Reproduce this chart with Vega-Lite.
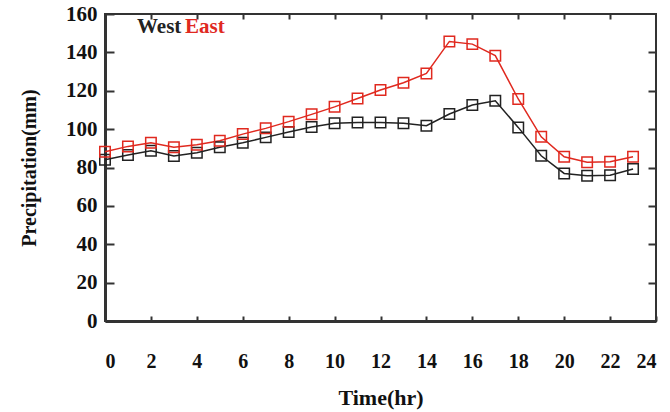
{
  "$schema": "https://vega.github.io/schema/vega-lite/v6.json",
  "width": 551,
  "height": 307,
  "autosize": {"type": "none"},
  "padding": {"left": 105, "top": 14, "right": 14, "bottom": 91},
  "background": "white",
  "config": {
    "font": "Liberation Serif",
    "view": {"stroke": "#333", "strokeWidth": 2},
    "axis": {"grid": false, "labelFont": "Liberation Serif", "titleFont": "Liberation Serif", "labelFontWeight": "bold", "titleFontWeight": "bold", "labelColor": "#111", "titleColor": "#111", "tickColor": "#333", "domainColor": "#333"}
  },
  "data": {
    "values": [
      {"hour": 0, "region": "West", "value": 84},
      {"hour": 1, "region": "West", "value": 86.5},
      {"hour": 2, "region": "West", "value": 88.7},
      {"hour": 3, "region": "West", "value": 86},
      {"hour": 4, "region": "West", "value": 87.7},
      {"hour": 5, "region": "West", "value": 90.5},
      {"hour": 6, "region": "West", "value": 92.9},
      {"hour": 7, "region": "West", "value": 95.7},
      {"hour": 8, "region": "West", "value": 98.5},
      {"hour": 9, "region": "West", "value": 101.1},
      {"hour": 10, "region": "West", "value": 103},
      {"hour": 11, "region": "West", "value": 103.4},
      {"hour": 12, "region": "West", "value": 103.4},
      {"hour": 13, "region": "West", "value": 103},
      {"hour": 14, "region": "West", "value": 101.8},
      {"hour": 15, "region": "West", "value": 107.9},
      {"hour": 16, "region": "West", "value": 112.6},
      {"hour": 17, "region": "West", "value": 114.8},
      {"hour": 18, "region": "West", "value": 100.9},
      {"hour": 19, "region": "West", "value": 86.1},
      {"hour": 20, "region": "West", "value": 76.9},
      {"hour": 21, "region": "West", "value": 75.7},
      {"hour": 22, "region": "West", "value": 76},
      {"hour": 23, "region": "West", "value": 79.2},
      {"hour": 0, "region": "East", "value": 88.2},
      {"hour": 1, "region": "East", "value": 91},
      {"hour": 2, "region": "East", "value": 92.9},
      {"hour": 3, "region": "East", "value": 90.5},
      {"hour": 4, "region": "East", "value": 91.9},
      {"hour": 5, "region": "East", "value": 93.9},
      {"hour": 6, "region": "East", "value": 97.4},
      {"hour": 7, "region": "East", "value": 100.4},
      {"hour": 8, "region": "East", "value": 103.9},
      {"hour": 9, "region": "East", "value": 107.7},
      {"hour": 10, "region": "East", "value": 111.6},
      {"hour": 11, "region": "East", "value": 116},
      {"hour": 12, "region": "East", "value": 120.4},
      {"hour": 13, "region": "East", "value": 124.2},
      {"hour": 14, "region": "East", "value": 129},
      {"hour": 15, "region": "East", "value": 145.7},
      {"hour": 16, "region": "East", "value": 144.3},
      {"hour": 17, "region": "East", "value": 138.3},
      {"hour": 18, "region": "East", "value": 115.7},
      {"hour": 19, "region": "East", "value": 96},
      {"hour": 20, "region": "East", "value": 85.6},
      {"hour": 21, "region": "East", "value": 82.7},
      {"hour": 22, "region": "East", "value": 83},
      {"hour": 23, "region": "East", "value": 85.6}
    ]
  },
  "layer": [
    {
      "mark": {"type": "line", "strokeWidth": 1.5, "point": {"shape": "square", "filled": false, "size": 110, "strokeWidth": 1.5}},
      "encoding": {
        "x": {"field": "hour", "type": "quantitative", "scale": {"domain": [0, 24], "nice": false},
              "axis": {"orient": "bottom", "values": [0,2,4,6,8,10,12,14,16,18,20,22,24], "tickSize": -5, "tickWidth": 2, "domainWidth": 3, "labelFontSize": 20, "labelPadding": 35, "title": "Time(hr)", "titleFontSize": 22, "titlePadding": 16}},
        "y": {"field": "value", "type": "quantitative", "scale": {"domain": [0, 160], "nice": false},
              "axis": {"orient": "left", "values": [0,20,40,60,80,100,120,140,160], "tickSize": -9, "tickWidth": 2, "domainWidth": 3, "labelFontSize": 21, "labelPadding": 17, "title": "Precipitation(mm)", "titleFontSize": 20, "titlePadding": 26}},
        "color": {"field": "region", "type": "nominal",
                  "scale": {"domain": ["West", "East"], "range": ["#222222", "#e0291f"]},
                  "legend": {"orient": "none", "legendX": 33, "legendY": 2, "direction": "horizontal", "title": null,
                             "symbolType": "circle", "symbolSize": 1, "symbolOpacity": 0, "symbolStrokeWidth": 0, "labelOffset": -22, "columnPadding": 3,
                             "labelFont": "Liberation Serif", "labelFontWeight": "bold", "labelFontSize": 21,
                             "encode": {"labels": {"update": {"fill": {"scale": "color", "field": "value"}}}}}}
      }
    },
    {
      "mark": {"type": "point", "opacity": 0},
      "encoding": {
        "x": {"field": "hour", "type": "quantitative",
              "axis": {"orient": "top", "values": [2,4,6,8,10,12,14,16,18,20,22], "tickSize": -5, "tickWidth": 2, "labels": false, "domain": false, "title": null}},
        "y": {"field": "value", "type": "quantitative",
              "axis": {"orient": "right", "values": [20,40,60,80,100,120,140], "tickSize": -8, "tickWidth": 2, "labels": false, "domain": false, "title": null}}
      }
    }
  ],
  "resolve": {"axis": {"x": "independent", "y": "independent"}}
}
